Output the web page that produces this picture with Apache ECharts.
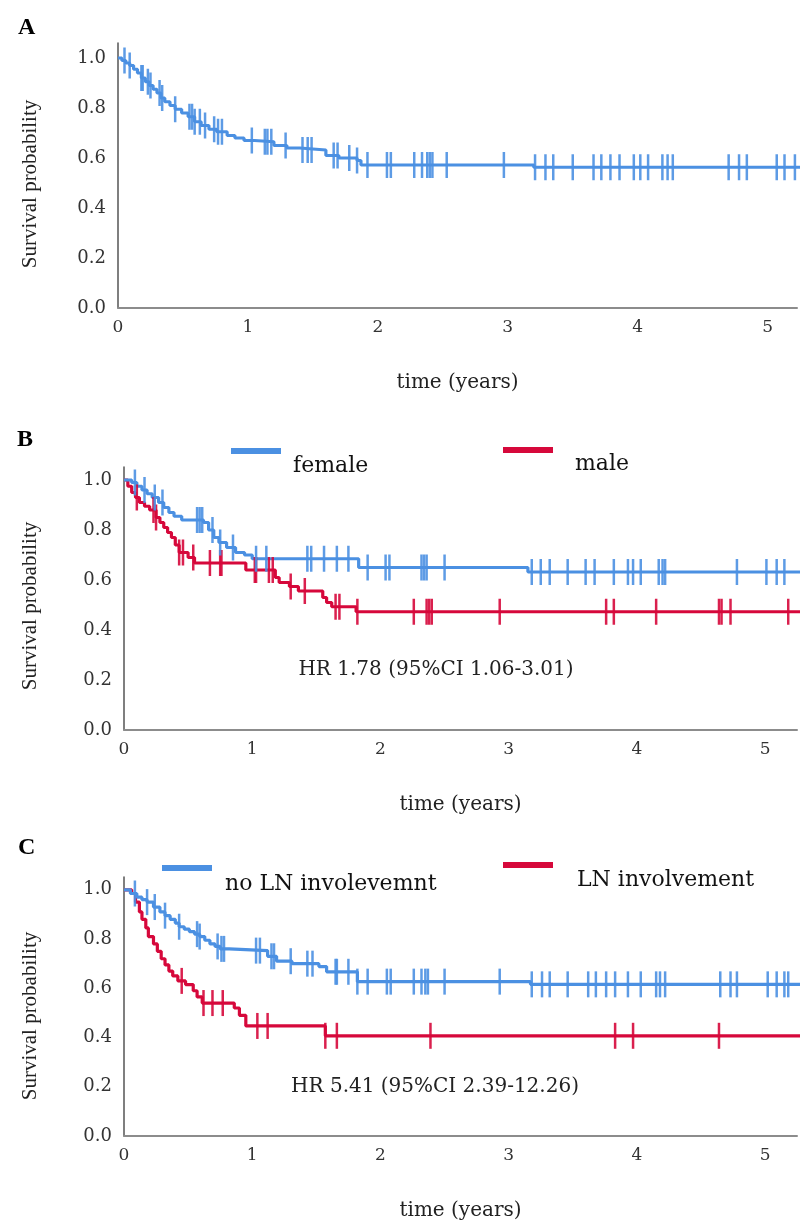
<!DOCTYPE html>
<html>
<head>
<meta charset="utf-8">
<script src="https://cdn.jsdelivr.net/npm/echarts@6/dist/echarts.min.js"></script>
<style>
html,body{margin:0;padding:0;background:#fff;}
#chart{width:800px;height:1222px;}
</style>
</head>
<body>
<div id="chart"></div>
<script>
// ---------- DATA ----------
const xTicks = [0, 1, 2, 3, 4, 5];
const yTicks = [0.0, 0.2, 0.4, 0.6, 0.8, 1.0];

// Panel A: overall survival [time (years), survival]
const survAll = [[0,1],[0.03,0.99],[0.06,0.98],[0.09,0.97],[0.12,0.955],[0.15,0.94],[0.18,0.92],[0.21,0.905],[0.24,0.89],[0.27,0.875],[0.30,0.86],[0.33,0.84],[0.36,0.825],[0.40,0.81],[0.44,0.795],[0.49,0.78],[0.54,0.765],[0.59,0.745],[0.64,0.73],[0.70,0.715],[0.76,0.705],[0.84,0.69],[0.90,0.68],[0.97,0.67],[1.05,0.665],[1.20,0.65],[1.30,0.64],[1.40,0.632],[1.60,0.61],[1.70,0.60],[1.84,0.59],[1.87,0.572],[3.20,0.563],[5.30,0.563]];
const censAll = [0.05,0.09,0.18,0.19,0.23,0.25,0.32,0.34,0.44,0.55,0.57,0.59,0.63,0.67,0.74,0.77,0.80,1.03,1.13,1.15,1.18,1.29,1.42,1.46,1.49,1.66,1.69,1.78,1.84,1.92,2.07,2.10,2.28,2.34,2.38,2.40,2.42,2.53,2.97,3.21,3.29,3.35,3.50,3.66,3.72,3.79,3.86,3.97,4.02,4.08,4.19,4.23,4.27,4.70,4.78,4.84,5.07,5.13,5.21];

// Panel B: sex
const survFemale = [[0,1],[0.06,0.99],[0.10,0.975],[0.14,0.96],[0.18,0.945],[0.22,0.93],[0.27,0.91],[0.31,0.89],[0.35,0.87],[0.39,0.855],[0.45,0.84],[0.62,0.83],[0.66,0.80],[0.70,0.77],[0.74,0.75],[0.80,0.73],[0.87,0.71],[0.94,0.70],[1.00,0.685],[1.83,0.65],[3.15,0.632],[5.30,0.632]];
const censFemale = [0.085,0.16,0.24,0.30,0.57,0.59,0.61,0.69,0.75,0.85,1.03,1.11,1.43,1.46,1.56,1.66,1.75,1.90,2.04,2.07,2.32,2.34,2.36,2.50,3.18,3.25,3.32,3.46,3.60,3.67,3.82,3.93,3.97,4.03,4.17,4.20,4.22,4.78,5.01,5.09,5.15];
const survMale = [[0,1],[0.03,0.975],[0.06,0.95],[0.09,0.93],[0.12,0.91],[0.16,0.895],[0.20,0.88],[0.25,0.85],[0.28,0.83],[0.31,0.81],[0.34,0.79],[0.37,0.77],[0.40,0.74],[0.43,0.71],[0.50,0.69],[0.55,0.668],[0.95,0.64],[1.18,0.61],[1.21,0.59],[1.29,0.574],[1.36,0.556],[1.55,0.53],[1.58,0.51],[1.62,0.493],[1.81,0.473],[5.30,0.473]];
const censMale = [0.10,0.23,0.25,0.43,0.46,0.54,0.67,0.75,0.76,1.02,1.03,1.13,1.16,1.30,1.41,1.65,1.68,1.82,2.26,2.36,2.38,2.40,2.93,3.76,3.82,4.15,4.64,4.66,4.73,5.18];

// Panel C: lymph node involvement
const survNoLN = [[0,1],[0.05,0.985],[0.10,0.97],[0.14,0.96],[0.18,0.95],[0.23,0.93],[0.28,0.91],[0.32,0.895],[0.36,0.88],[0.40,0.865],[0.43,0.85],[0.47,0.84],[0.51,0.83],[0.55,0.82],[0.59,0.81],[0.63,0.795],[0.67,0.78],[0.71,0.77],[0.75,0.76],[0.82,0.753],[1.12,0.73],[1.19,0.71],[1.31,0.70],[1.52,0.688],[1.58,0.667],[1.82,0.627],[3.17,0.616],[5.30,0.616]];
const censNoLN = [0.085,0.18,0.24,0.32,0.43,0.57,0.59,0.73,0.76,0.78,1.03,1.06,1.15,1.17,1.30,1.43,1.47,1.65,1.66,1.75,1.82,1.90,2.05,2.08,2.26,2.32,2.35,2.37,2.50,2.93,3.18,3.26,3.32,3.46,3.62,3.68,3.76,3.83,3.93,4.03,4.15,4.18,4.22,4.65,4.73,4.78,5.02,5.09,5.15,5.18];
const survLN = [[0,1],[0.06,0.985],[0.09,0.95],[0.12,0.91],[0.14,0.88],[0.17,0.845],[0.19,0.81],[0.23,0.78],[0.26,0.75],[0.29,0.72],[0.32,0.695],[0.35,0.67],[0.38,0.65],[0.42,0.63],[0.48,0.615],[0.54,0.59],[0.57,0.565],[0.61,0.54],[0.86,0.52],[0.90,0.49],[0.95,0.447],[1.57,0.407],[5.30,0.407]];
const censLN = [0.45,0.62,0.69,0.77,1.04,1.12,1.57,1.66,2.39,3.83,3.97,4.64];

const panelLabels = ['A', 'B', 'C'];
const legendB = ['female', 'male'];
const legendC = ['no LN involevemnt', 'LN involvement'];
const hrTexts = ['HR 1.78 (95%CI 1.06-3.01)', 'HR 5.41 (95%CI 2.39-12.26)'];
const xTitle = 'time (years)';
const yTitle = 'Survival probability';

// ---------- CHART ----------
const BLUE = '#4b90e2';
const RED = '#d6083b';
const SERIF = '"DejaVu Serif", "Liberation Serif", serif';

function stepAt(curve, t) {
  let s = curve[0][1];
  for (const p of curve) { if (p[0] <= t) s = p[1]; else break; }
  return s;
}
function censorPoints(curve, times) { return times.map(t => [t, stepAt(curve, t)]); }

const grids = [
  {left: 118, top: 43, width: 682, height: 265},
  {left: 124, top: 467, width: 676, height: 263},
  {left: 124, top: 877, width: 676, height: 263}
];
const xMax = [682/130.5, 676/128.8, 676/128.8];
const yMax = [265/250, 263/250, 263/250];

const xAxes = grids.map((g, i) => ({
  type: 'value', gridIndex: i, min: 0, max: xMax[i], interval: 1,
  name: xTitle, nameLocation: 'middle', nameGap: 65,
  nameTextStyle: {fontFamily: SERIF, fontSize: 20, color: '#222'},
  axisLine: {show: true, onZero: false, lineStyle: {color: '#8c8c8c', width: 2}},
  axisTick: {show: false}, splitLine: {show: false},
  axisLabel: {fontFamily: SERIF, fontSize: 17, color: '#333', margin: 11,
    formatter: v => xTicks.some(t => Math.abs(t - v) < 1e-6) ? String(Math.round(v)) : ''}
}));
const yAxes = grids.map((g, i) => ({
  type: 'value', gridIndex: i, min: 0, max: yMax[i], interval: 0.2,
  axisLine: {show: true, onZero: false, lineStyle: {color: '#555', width: 1.5}},
  axisTick: {show: false}, splitLine: {show: false},
  axisLabel: {fontFamily: SERIF, fontSize: 18, color: '#333', margin: 12,
    formatter: v => yTicks.some(t => Math.abs(t - v) < 1e-6) ? v.toFixed(1) : ''}
}));

function kmSeries(name, curve, cens, color, idx) {
  return [
    {type: 'line', name: name, xAxisIndex: idx, yAxisIndex: idx, data: curve, step: 'end',
     showSymbol: false, lineStyle: {color: color, width: 3.2}, itemStyle: {color: color}, z: 3, silent: true},
    {type: 'scatter', name: name + ' censored', xAxisIndex: idx, yAxisIndex: idx,
     data: censorPoints(curve, cens), symbol: 'rect', symbolSize: [2.5, 26],
     itemStyle: {color: color, opacity: 0.9}, z: 4, silent: true}
  ];
}

const series = [
  ...kmSeries('overall', survAll, censAll, BLUE, 0),
  ...kmSeries(legendB[1], survMale, censMale, RED, 1),
  ...kmSeries(legendB[0], survFemale, censFemale, BLUE, 1),
  ...kmSeries(legendC[1], survLN, censLN, RED, 2),
  ...kmSeries(legendC[0], survNoLN, censNoLN, BLUE, 2)
];

const graphic = [];
// panel letters
[[18, 28], [17, 440], [18, 848]].forEach((p, i) => graphic.push({
  type: 'text', x: p[0], y: p[1],
  style: {text: panelLabels[i], fontFamily: '"Liberation Serif", serif', fontWeight: 'bold', fontSize: 24,
    fill: '#000', verticalAlign: 'middle', align: 'left'}
}));
// y axis titles
[184, 606, 1016].forEach(cy => graphic.push({
  type: 'text', x: 30, y: cy, rotation: Math.PI / 2,
  style: {text: yTitle, fontFamily: '"Liberation Serif", serif', fontSize: 21, fill: '#222',
    align: 'center', verticalAlign: 'middle'}
}));
// legends
const legendItems = [
  {bar: [231, 448], text: [293, 466], label: legendB[0], color: BLUE},
  {bar: [503, 447], text: [575, 464], label: legendB[1], color: RED},
  {bar: [162, 865], text: [225, 884], label: legendC[0], color: BLUE},
  {bar: [503, 862], text: [577, 880], label: legendC[1], color: RED}
];
legendItems.forEach(it => {
  graphic.push({type: 'rect', shape: {x: it.bar[0], y: it.bar[1], width: 50, height: 6},
    style: {fill: it.color}});
  graphic.push({type: 'text', x: it.text[0], y: it.text[1],
    style: {text: it.label, fontFamily: SERIF, fontSize: 22, fill: '#111', align: 'left', verticalAlign: 'middle'}});
});
// HR annotations
[[436, 670], [435, 1087]].forEach((p, i) => graphic.push({
  type: 'text', x: p[0], y: p[1],
  style: {text: hrTexts[i], fontFamily: SERIF, fontSize: 20, fill: '#222', align: 'center', verticalAlign: 'middle'}
}));

const chart = echarts.init(document.getElementById('chart'), null, {renderer: 'canvas'});
chart.setOption({
  backgroundColor: '#fff',
  animation: false,
  grid: grids,
  xAxis: xAxes,
  yAxis: yAxes,
  series: series,
  graphic: graphic
});
</script>
</body>
</html>
